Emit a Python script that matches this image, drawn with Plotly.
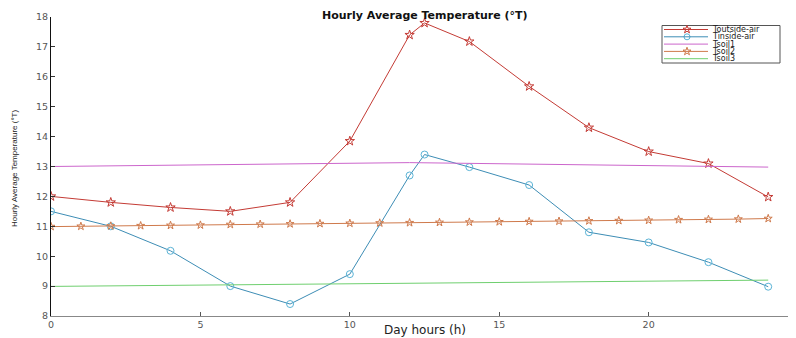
import plotly.graph_objects as go

# ---- data ----
hours_main = [0, 2, 4, 6, 8, 10, 12, 12.5, 14, 16, 18, 20, 22, 24]
t_outside = [12.0, 11.8, 11.63, 11.5, 11.8, 13.85, 17.4, 17.8, 17.18, 15.68, 14.3, 13.5, 13.1, 11.98]
t_inside = [11.5, 11.0, 10.18, 9.0, 8.4, 9.4, 12.7, 13.4, 12.98, 12.38, 10.8, 10.46, 9.8, 8.98]
hours_soil1 = [0, 12, 24]
t_soil1 = [13.0, 13.13, 12.98]
hours_soil2 = list(range(0, 25))
t_soil2 = [10.99, 11.0, 11.01, 11.02, 11.03, 11.04, 11.06, 11.07, 11.08, 11.09, 11.1, 11.11,
           11.12, 11.13, 11.14, 11.15, 11.16, 11.17, 11.18, 11.19, 11.2, 11.22, 11.23, 11.24, 11.26]
hours_soil3 = [0, 12, 24]
t_soil3 = [8.99, 9.1, 9.2]
series_names = ["Toutside-air", "Tinside-air", "Tsoil1", "Tsoil2", "Tsoil3"]
x_ticks = [0, 5, 10, 15, 20, 25]
y_ticks = [8, 9, 10, 11, 12, 13, 14, 15, 16, 17, 18]

c_out = "#c43b35"
c_in_line = "#3d8db5"
c_in_mk = "#5ab3d6"
c_s1 = "#cc66cc"
c_s2 = "#cf7a4c"
c_s3 = "#6fcf6f"

# page has an 8px body margin: figure is drawn from (8, 8)
OFF = 8
PAGE_W, PAGE_H = 796, 338
PL, PT, PB_Y = 51, 17, 316          # plot area in page pixels (left, top, bottom)
W, H = PAGE_W - OFF, PAGE_H - OFF
L, T, R = PL - OFF, PT - OFF, 0
B = H - (PB_Y - OFF)
PW, PH = W - L - R, H - T - B

fig = go.Figure()
fig.add_trace(go.Scatter(x=hours_main, y=t_outside, mode="lines+markers", name=series_names[0],
                         line=dict(color=c_out, width=1),
                         marker=dict(symbol="star-open", size=7, color=c_out, line=dict(width=1))))
fig.add_trace(go.Scatter(x=hours_main, y=t_inside, mode="lines+markers", name=series_names[1],
                         line=dict(color=c_in_line, width=1),
                         marker=dict(symbol="circle-open", size=7, color=c_in_mk, line=dict(width=1))))
fig.add_trace(go.Scatter(x=hours_soil1, y=t_soil1, mode="lines", name=series_names[2],
                         line=dict(color=c_s1, width=1)))
fig.add_trace(go.Scatter(x=hours_soil2, y=t_soil2, mode="lines+markers", name=series_names[3],
                         line=dict(color=c_s2, width=1),
                         marker=dict(symbol="star-open", size=6, color=c_s2, line=dict(width=1))))
fig.add_trace(go.Scatter(x=hours_soil3, y=t_soil3, mode="lines", name=series_names[4],
                         line=dict(color=c_s3, width=1)))

# ---- custom compact legend drawn in page-pixel coordinates on overlay axes ----
leg_rows = [29.5, 36.8, 44.1, 51.4, 58.7]
leg_colors = [c_out, c_in_line, c_s1, c_s2, c_s3]
leg_symbols = ["star-open", "circle-open", None, "star-open", None]
leg_mk_colors = [c_out, c_in_mk, None, c_s2, None]
shapes = [dict(type="rect", xref="x2", yref="y2", x0=662, x1=780, y0=25.5, y1=63,
               line=dict(color="#555555", width=1), fillcolor="white", layer="below")]
annotations = []
for i, nm in enumerate(series_names):
    yy = leg_rows[i]
    shapes.append(dict(type="line", xref="x2", yref="y2", x0=664, x1=708, y0=yy, y1=yy,
                       line=dict(color=leg_colors[i], width=1), layer="above"))
    annotations.append(dict(x=711, y=yy, xref="x2", yref="y2", text=nm, showarrow=False,
                            xanchor="left", yanchor="middle", borderpad=0,
                            font=dict(size=8, color="#222222", family="DejaVu Sans")))
    if leg_symbols[i]:
        fig.add_trace(go.Scatter(x=[687], y=[yy], xaxis="x2", yaxis="y2", mode="markers",
                                 showlegend=False, hoverinfo="skip",
                                 marker=dict(symbol=leg_symbols[i], size=6, color=leg_mk_colors[i],
                                             line=dict(width=1))))

# titles as annotations placed in paper coordinates (page pixel targets)
annotations.append(dict(text="<b>Hourly Average Temperature (°T)</b>", xref="paper", yref="paper",
                        x=(425 - PL) / PW, y=1 + (PT - 15) / PH, xanchor="center", yanchor="middle",
                        showarrow=False, font=dict(size=11, color="#111111", family="DejaVu Sans")))
annotations.append(dict(text="Day hours (h)", xref="paper", yref="paper",
                        x=(425 - PL) / PW, y=-(330 - PB_Y) / PH, xanchor="center", yanchor="middle",
                        showarrow=False, font=dict(size=12, color="#222222", family="DejaVu Sans")))
annotations.append(dict(text="Hourly Average Temperature (°T)", xref="paper", yref="paper",
                        x=-(PL - 14) / PW, y=(PB_Y - 168) / PH, xanchor="center", yanchor="middle",
                        textangle=-90, showarrow=False,
                        font=dict(size=8, color="#222222", family="Liberation Sans")))

tick_font = dict(size=9.5, color="#555555", family="DejaVu Sans")
fig.update_layout(
    width=W, height=H,
    margin=dict(l=L, r=R, t=T, b=B, pad=0),
    paper_bgcolor="white", plot_bgcolor="white",
    showlegend=False,
    xaxis=dict(range=[0, 24.93], tickvals=x_ticks, ticks="inside", ticklen=4, tickcolor="#555555",
               showline=True, linecolor="#888888", linewidth=1, showgrid=False, zeroline=False,
               tickfont=tick_font, mirror=False),
    yaxis=dict(range=[8, 18], tickvals=y_ticks, ticks="inside", ticklen=4, tickcolor="#333333",
               showline=True, linecolor="#111111", linewidth=1, showgrid=False, zeroline=False,
               tickfont=tick_font),
    xaxis2=dict(overlaying="x", range=[PL, PAGE_W], visible=False, domain=[0, 1]),
    yaxis2=dict(overlaying="y", range=[PB_Y, PT], visible=False, anchor="x2"),
    shapes=shapes,
    annotations=annotations,
)
fig.write_html("out.html")
